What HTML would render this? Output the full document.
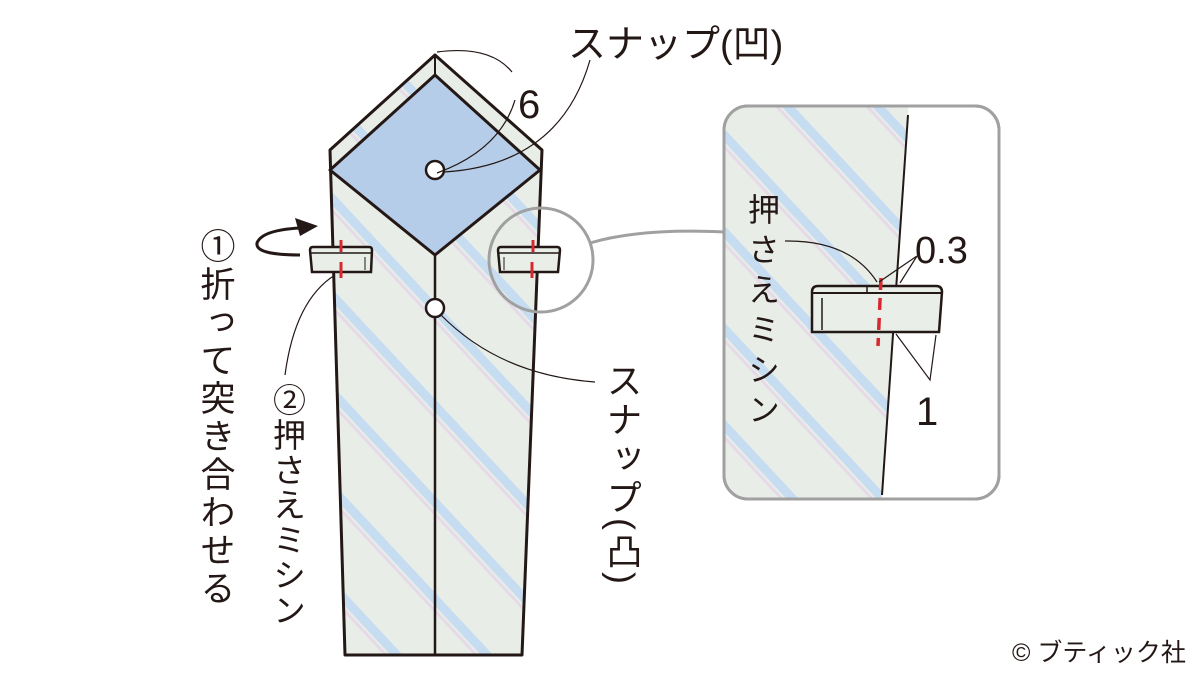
<!DOCTYPE html>
<html><head><meta charset="utf-8"><style>
body{margin:0;background:#fff;}
svg{display:block}
text{font-family:"Liberation Sans","Noto Sans CJK JP",sans-serif;fill:#231815}
.v{writing-mode:vertical-rl;}
</style></head><body>
<svg width="1200" height="675" viewBox="0 0 1200 675" xmlns="http://www.w3.org/2000/svg">
<defs>
<pattern id="st" patternUnits="userSpaceOnUse" width="66" height="66" patternTransform="rotate(47)">
<rect width="66" height="66" fill="#e8eee7"/>
<rect x="0" y="20" width="66" height="9" fill="#c6dcf1"/>
<rect x="0" y="31" width="66" height="3" fill="#e6dae9"/>
</pattern>
</defs>
<path d="M435,55 L542,150 L522,655 L345,655 L330,150 Z" fill="url(#st)" stroke="#231815" stroke-width="3" stroke-linejoin="round"/>
<path d="M435,75 L540,170 L435,255 L330,170 Z" fill="#b6cde9" stroke="#231815" stroke-width="3" stroke-linejoin="round"/>
<line x1="435" y1="55" x2="435" y2="75" stroke="#231815" stroke-width="2"/>
<line x1="435" y1="255" x2="435" y2="655" stroke="#231815" stroke-width="2.5"/>
<circle cx="435" cy="170" r="9" fill="#fff" stroke="#231815" stroke-width="2.5"/>
<circle cx="435" cy="308" r="9" fill="#fff" stroke="#231815" stroke-width="2.5"/>
<path d="M310,250 Q310,247 313,247 L369,247 Q372,247 372,250 L371,272 L312,272 Z" fill="#e9efe8" stroke="#231815" stroke-width="2.5"/>
<line x1="310" y1="253" x2="372" y2="253" stroke="#231815" stroke-width="1.5"/>
<line x1="365" y1="257" x2="365" y2="270" stroke="#231815" stroke-width="1"/>
<line x1="341" y1="240" x2="341" y2="252" stroke="#d7282f" stroke-width="3"/>
<line x1="341" y1="262" x2="341" y2="278" stroke="#d7282f" stroke-width="3"/>
<path d="M498,250 Q498,247 501,247 L557,247 Q560,247 560,250 L558,272 L500,272 Z" fill="#e9efe8" stroke="#231815" stroke-width="2.5"/>
<line x1="498" y1="253" x2="560" y2="253" stroke="#231815" stroke-width="1.5"/>
<line x1="504" y1="257" x2="504" y2="270" stroke="#231815" stroke-width="1"/>
<line x1="533" y1="240" x2="533" y2="252" stroke="#d7282f" stroke-width="3"/>
<line x1="532" y1="262" x2="532" y2="278" stroke="#d7282f" stroke-width="3"/>
<circle cx="541" cy="260" r="52" fill="none" stroke="#a0a0a0" stroke-width="3"/>
<path d="M590,243 Q640,228 725,232" fill="none" stroke="#a0a0a0" stroke-width="3"/>
<rect x="724" y="106" width="275" height="393" rx="24" fill="#fff" stroke="#a0a0a0" stroke-width="3"/>
<clipPath id="ic"><rect x="725" y="107" width="273" height="391" rx="23"/></clipPath>
<g clip-path="url(#ic)">
<path d="M724,100 L909,100 L881,505 L724,505 Z" fill="url(#st)"/>
</g>
<rect x="724" y="106" width="275" height="393" rx="24" fill="none" stroke="#a0a0a0" stroke-width="3"/>
<line x1="908" y1="115" x2="882" y2="495" stroke="#231815" stroke-width="2"/>
<path d="M812,292 Q812,286 818,286 L936,286 Q942,286 942,292 L939,332 L812,332 Z" fill="#e9efe8" stroke="#231815" stroke-width="2.5"/>
<line x1="812" y1="293" x2="942" y2="293" stroke="#231815" stroke-width="2"/>
<line x1="867" y1="286" x2="867" y2="293" stroke="#231815" stroke-width="1.5"/>
<line x1="822" y1="298" x2="822" y2="330" stroke="#231815" stroke-width="1.5"/>
<line x1="881" y1="278" x2="878" y2="346" stroke="#d7282f" stroke-width="3.5" stroke-dasharray="12,8"/>
<path d="M785,241 Q850,240 877,282" fill="none" stroke="#231815" stroke-width="1.2"/>
<path d="M879,282 L917,256 L900,283" fill="none" stroke="#231815" stroke-width="1.2"/>
<path d="M896,334 L930,380 L936,335" fill="none" stroke="#231815" stroke-width="1.2"/>
<path d="M437,52 Q490,45 512,72" fill="none" stroke="#231815" stroke-width="1.2"/>
<path d="M437,173 Q500,150 515,100" fill="none" stroke="#231815" stroke-width="1.2"/>
<path d="M444,172 Q560,165 590,60" fill="none" stroke="#231815" stroke-width="1.2"/>
<path d="M441,315 Q500,375 595,382" fill="none" stroke="#231815" stroke-width="1.2"/>
<path d="M335,275 Q295,300 285,375" fill="none" stroke="#231815" stroke-width="1.2"/>
<path d="M300,255 Q255,255 257,243 Q262,230 300,228" fill="none" stroke="#231815" stroke-width="3"/>
<path d="M318,226 L295,218 L300,236 Z" fill="#231815"/>
<text x="568" y="57" font-size="38">スナップ(凹)</text>
<text x="518" y="118" font-size="40">6</text>
<text x="915" y="263" font-size="38">0.3</text>
<text x="916" y="425" font-size="40">1</text>
<text x="1012" y="661" font-size="25">© ブティック社</text>
<text class="v" x="215" y="228" font-size="35" letter-spacing="3">①折って突き合わせる</text>
<text class="v" x="287" y="383" font-size="33" letter-spacing="2">②押さえミシン</text>
<text class="v" x="622" y="362" font-size="36" letter-spacing="3">スナップ(凸)</text>
<text class="v" x="762" y="193" font-size="32" letter-spacing="8">押さえミシン</text>
</svg>
</body></html>
